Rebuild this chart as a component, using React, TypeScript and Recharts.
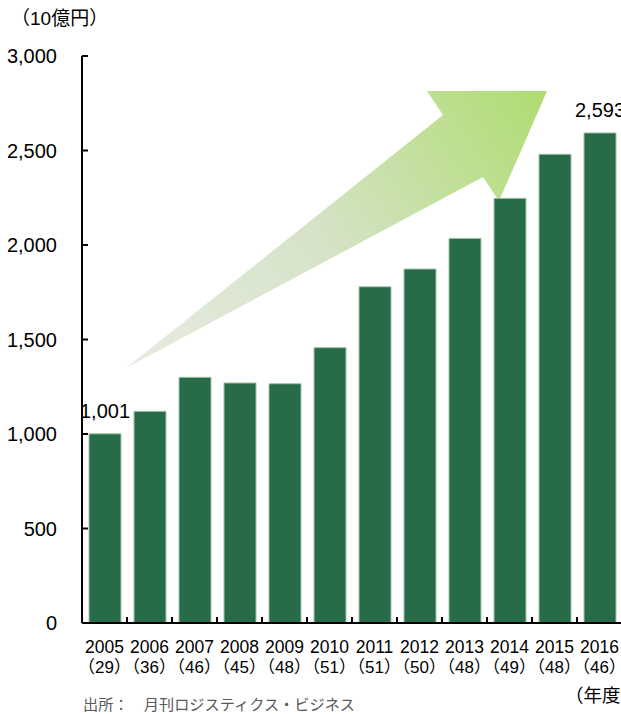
import React from "react";
import { BarChart, Bar, XAxis, YAxis, LabelList, Customized } from "recharts";

const FONT = '"Liberation Sans", Arial, "Noto Sans CJK JP", sans-serif';
const JP_FONT = '"Noto Sans CJK JP", "Liberation Sans", sans-serif';

// fiscal years, number of companies surveyed, 3PL sales (10億円)
const years = ["2005", "2006", "2007", "2008", "2009", "2010", "2011", "2012", "2013", "2014", "2015", "2016"];
const companies = [29, 36, 46, 45, 48, 51, 51, 50, 48, 49, 48, 46];
const sales = [1001, 1120, 1300, 1270, 1266, 1457, 1779, 1873, 2035, 2247, 2480, 2593];
const yTicks = [0, 500, 1000, 1500, 2000, 2500, 3000];
const labelledYears = ["2005", "2016"];

const data = years.map((year, i) => ({ year, companies: companies[i], sales: sales[i] }));

const CHART_W = 640;
const CHART_H = 714;
const MARGIN = { top: 56, right: 18, bottom: 31, left: 0 };
const Y_W = 82;
const PLOT_W = CHART_W - MARGIN.left - MARGIN.right - Y_W;
const Y_MARGIN = 25;
const MARK = 6;

// year + company count, plus a short upward mark on the category boundary
function YearTick({ x, y, payload }) {
  const n = companies[years.indexOf(payload.value)];
  const half = PLOT_W / years.length / 2;
  return (
    <g>
      <line x1={x + half} x2={x + half} y1={y} y2={y - MARK} stroke="#000" strokeWidth={2} />
      <text x={x} y={y + 30} textAnchor="middle" fontSize={17.5} fill="#000" fontFamily={FONT}>
        {payload.value}
      </text>
      <text x={x} y={y + 50} textAnchor="middle" fontSize={17} fill="#000" fontFamily={FONT}>
        （{n}）
      </text>
    </g>
  );
}

// value label plus an inward mark on the axis
function ValueTick({ x, y, payload }) {
  const axisX = x + Y_MARGIN;
  return (
    <g>
      <line x1={axisX} x2={axisX + MARK} y1={y} y2={y} stroke="#000" strokeWidth={2} />
      <text x={x} y={y} dy="0.36em" textAnchor="end" fontSize={20} fill="#000" fontFamily={FONT}>
        {payload.value.toLocaleString("en-US")}
      </text>
    </g>
  );
}

function EndLabel({ x, y, width, value, index }) {
  if (!labelledYears.includes(years[index])) return null;
  return (
    <text x={x + width / 2} y={y - 16} textAnchor="middle" fontSize={20} fill="#000" fontFamily={FONT}>
      {Number(value).toLocaleString("en-US")}
    </text>
  );
}

// decorative growth arrow and the captions around the plot
function Decor() {
  return (
    <g>
      <defs>
        <linearGradient id="arrowFill" gradientUnits="userSpaceOnUse" x1={126} y1={368} x2={547} y2={91}>
          <stop offset="0" stopColor="#e6ece0" />
          <stop offset="0.45" stopColor="#d6e3c9" />
          <stop offset="1" stopColor="#afdc70" />
        </linearGradient>
      </defs>
      <polygon
        points="126,368 443,115 427,91 547,91 499,201 483,177"
        fill="url(#arrowFill)"
      />
      <text x={11} y={25} fontSize={19} fill="#000" fontFamily={FONT}>
        （10億円）
      </text>
      <text x={565} y={702} fontSize={18.5} fill="#000" fontFamily={FONT}>
        （年度）
      </text>
      <text x={83} y={710} fontSize={15.2} fill="#595959" fontFamily={JP_FONT}>
        出所：　月刊ロジスティクス・ビジネス
      </text>
    </g>
  );
}

export default function App() {
  return (
    <div
      style={{
        position: "absolute",
        left: 0,
        top: 0,
        width: 621,
        height: 714,
        overflow: "hidden",
        background: "#fff",
      }}
    >
      <BarChart width={CHART_W} height={CHART_H} data={data} margin={MARGIN}>
        <XAxis
          dataKey="year"
          height={60}
          tickLine={false}
          tickSize={0}
          tickMargin={0}
          axisLine={{ stroke: "#000", strokeWidth: 2 }}
          tick={<YearTick />}
          interval={0}
        />
        <YAxis
          width={Y_W}
          domain={[0, 3000]}
          ticks={yTicks}
          tickLine={false}
          tickSize={0}
          tickMargin={Y_MARGIN}
          axisLine={{ stroke: "#000", strokeWidth: 2 }}
          tick={<ValueTick />}
        />
        <Bar
          dataKey="sales"
          barSize={32}
          fill="#286b48"
          stroke="#9fc5aa"
          strokeWidth={1}
          isAnimationActive={false}
        >
          <LabelList dataKey="sales" content={<EndLabel />} />
        </Bar>
        <Customized component={Decor} />
      </BarChart>
    </div>
  );
}
